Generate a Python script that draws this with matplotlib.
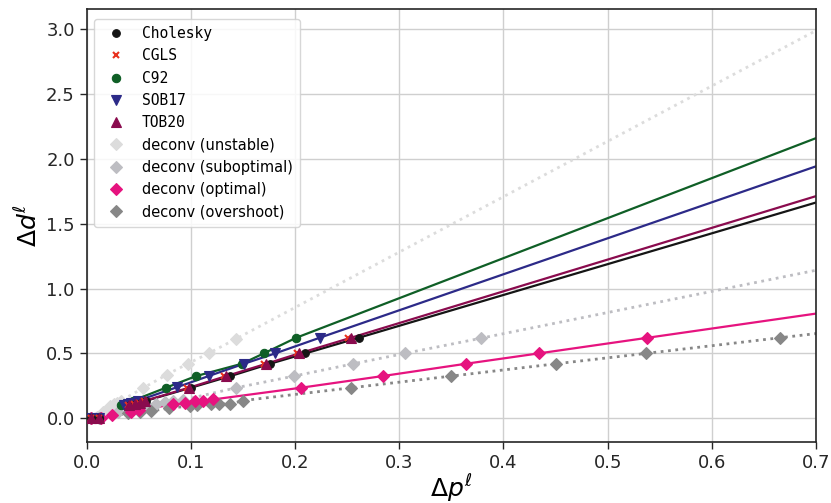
import numpy as np
import matplotlib
matplotlib.use("Agg")
import matplotlib.pyplot as plt

# ---------------- data ----------------
chol_x = [0.004, 0.012, 0.042, 0.047, 0.052, 0.057, 0.100, 0.138, 0.176, 0.210, 0.261]
chol_y = [0.0, 0.005, 0.10, 0.11, 0.12, 0.135, 0.235, 0.325, 0.42, 0.50, 0.62]

cgls_x = [0.004, 0.012, 0.040, 0.045, 0.050, 0.055, 0.096, 0.132, 0.170, 0.202, 0.251]
cgls_y = [0.0, 0.005, 0.10, 0.11, 0.12, 0.135, 0.235, 0.325, 0.42, 0.50, 0.62]

c92_x = [0.004, 0.012, 0.033, 0.036, 0.039, 0.044, 0.076, 0.105, 0.149, 0.170, 0.201]
c92_y = [0.0, 0.005, 0.10, 0.11, 0.12, 0.135, 0.235, 0.325, 0.42, 0.50, 0.62]

sob_x = [0.004, 0.012, 0.036, 0.040, 0.043, 0.049, 0.087, 0.117, 0.151, 0.181, 0.2235]
sob_y = [0.0, 0.005, 0.10, 0.11, 0.12, 0.135, 0.240, 0.325, 0.42, 0.50, 0.62]

tob_x = [0.004, 0.012, 0.041, 0.046, 0.051, 0.056, 0.098, 0.134, 0.1724, 0.204, 0.2535]
tob_y = [0.0, 0.005, 0.10, 0.11, 0.12, 0.135, 0.235, 0.325, 0.42, 0.50, 0.62]

unst_x = [0.004, 0.010, 0.016, 0.022, 0.026, 0.029, 0.033, 0.054, 0.0767, 0.097, 0.117, 0.1436]
unst_y = [0.0, 0.01, 0.05, 0.095, 0.11, 0.12, 0.135, 0.232, 0.335, 0.42, 0.50, 0.613]

subo_x = [0.004, 0.012, 0.030, 0.058, 0.067, 0.075, 0.083, 0.092, 0.1436, 0.199, 0.256, 0.3055, 0.378]
subo_y = [0.0, 0.005, 0.05, 0.095, 0.11, 0.125, 0.135, 0.14, 0.235, 0.325, 0.42, 0.50, 0.616]

opt_x = [0.004, 0.014, 0.024, 0.043, 0.050, 0.083, 0.094, 0.104, 0.112, 0.1216, 0.2055, 0.284, 0.364, 0.434, 0.538]
opt_y = [0.0, 0.005, 0.025, 0.05, 0.06, 0.108, 0.12, 0.134, 0.134, 0.145, 0.235, 0.325, 0.42, 0.50, 0.62]

over_x = [0.004, 0.013, 0.040, 0.051, 0.062, 0.079, 0.099, 0.106, 0.119, 0.127, 0.138, 0.150, 0.254, 0.350, 0.4507, 0.537, 0.665]
over_y = [0.0, 0.0, 0.039, 0.046, 0.056, 0.077, 0.095, 0.10, 0.11, 0.11, 0.11, 0.136, 0.235, 0.325, 0.42, 0.50, 0.62]

x_ticks = [0.0, 0.1, 0.2, 0.3, 0.4, 0.5, 0.6, 0.7]
y_ticks = [0.0, 0.5, 1.0, 1.5, 2.0, 2.5, 3.0]

# ---------------- figure ----------------
fig = plt.figure(figsize=(8.31, 5.03), dpi=100)
ax = fig.add_axes([0.1043, 0.1213, 0.8777, 0.8602])
XMAX = 0.7


def extended(xs, ys):
    xs = np.asarray(xs, float)
    ys = np.asarray(ys, float)
    o = np.argsort(xs)
    xs, ys = xs[o], ys[o]
    ratio = ys[-1] / xs[-1]
    return np.append(xs, XMAX), np.append(ys, ratio * XMAX)


series = [
    # x, y, label, color, marker, ms, linestyle, lw (None = no line)
    (unst_x, unst_y, "deconv (unstable)", "#dcdcdc", "D", 6.5, ":", 2.0),
    (subo_x, subo_y, "deconv (suboptimal)", "#bdbdc2", "D", 6.5, ":", 2.0),
    (over_x, over_y, "deconv (overshoot)", "#878787", "D", 6.5, ":", 2.0),
    (opt_x, opt_y, "deconv (optimal)", "#e6137f", "D", 6.5, "-", 1.6),
    (c92_x, c92_y, "C92", "#0f5f26", "o", 6.0, "-", 1.6),
    (sob_x, sob_y, "SOB17", "#2c2a88", "v", 6.5, "-", 1.6),
    (chol_x, chol_y, "Cholesky", "#151515", "o", 5.5, "-", 1.6),
    (cgls_x, cgls_y, "CGLS", "#e8321e", "x", 5.0, "-", None),
    (tob_x, tob_y, "TOB20", "#8a0b4e", "^", 6.5, "-", 1.6),
]

handles = {}
for xs, ys, lab, col, mk, ms, ls, lw in series:
    if lw is not None:
        lx, ly = extended(xs, ys)
        ax.plot(lx, ly, color=col, linestyle=ls, linewidth=lw, zorder=2)
    mew = 1.5 if mk == "x" else 0.8
    h, = ax.plot(xs, ys, linestyle="none", marker=mk, markersize=ms,
                 color=col, markeredgecolor=col, markeredgewidth=mew,
                 label=lab, zorder=3)
    handles[lab] = h

order = ["Cholesky", "CGLS", "C92", "SOB17", "TOB20", "deconv (unstable)",
         "deconv (suboptimal)", "deconv (optimal)", "deconv (overshoot)"]
leg = ax.legend([handles[k] for k in order], order, loc="upper left",
                prop={"family": "DejaVu Sans", "size": 10.5},
                frameon=True, fancybox=True, framealpha=0.85,
                edgecolor="#d0d0d0", borderpad=0.5, labelspacing=0.5,
                handletextpad=0.8, markerscale=1.0, numpoints=1,
                bbox_to_anchor=(0.0, 0.995))
for t in leg.get_texts():
    if not t.get_text().startswith("deconv"):
        t.set_family("DejaVu Sans Mono")

ax.set_xlim(0.0, XMAX)
ax.set_ylim(-0.183, 3.152)
ax.set_xticks(x_ticks)
ax.set_yticks(y_ticks)
ax.set_xticklabels([f"{v:.1f}" for v in x_ticks])
ax.set_yticklabels([f"{v:.1f}" for v in y_ticks])
ax.tick_params(labelsize=13, length=5, width=1.0, colors="#262626")
ax.grid(True, color="#cfcfcf", linewidth=1.0)
ax.set_axisbelow(True)
for s in ax.spines.values():
    s.set_color("#262626")
    s.set_linewidth(1.2)

ax.set_xlabel(r"$\Delta p^{\ell}$", fontsize=18, labelpad=0)
ax.set_ylabel(r"$\Delta d^{\ell}$", fontsize=18, labelpad=3)

fig.savefig("out.png", dpi=100)
